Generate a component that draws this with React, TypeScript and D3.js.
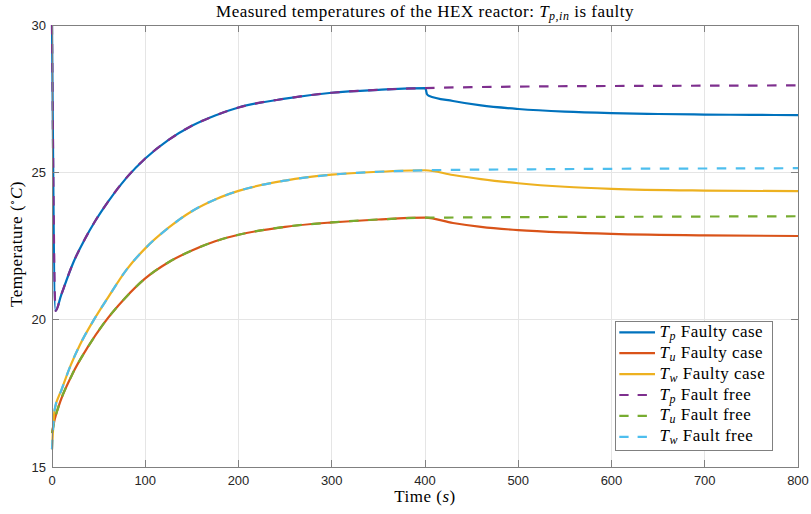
import React from "react";
import * as d3 from "d3";

// ---- data ----
const tpTime = [0, 3.8, 10, 23, 35, 46, 60, 80, 100, 125, 150, 175, 200, 250, 300, 350, 400];
const tpBefore = [30, 20.3, 20.85, 21.95, 22.72, 23.33, 24.0, 24.82, 25.47, 26.1, 26.58, 26.93, 27.2, 27.5, 27.7, 27.8, 27.86];

const tuTime = [0, 2.8, 7, 21, 39, 55, 78, 100, 125, 150, 175, 200, 250, 300, 350, 400];
const tuBefore = [16.15, 16.6, 17.05, 18.1, 19.1, 19.85, 20.72, 21.4, 21.95, 22.35, 22.66, 22.88, 23.15, 23.3, 23.4, 23.46];

const twTime = [0, 2.8, 10, 20, 30, 45, 60, 80, 100, 125, 150, 175, 200, 250, 300, 350, 400];
const twBefore = [15.6, 16.94, 17.6, 18.45, 19.15, 20.0, 20.75, 21.7, 22.42, 23.12, 23.68, 24.08, 24.37, 24.72, 24.92, 25.02, 25.07];

const tpFaultyTime = [400, 401, 402, 404, 430, 460, 500, 550, 600, 650, 700, 750, 800];
const tpFaulty = [27.86, 27.8, 27.66, 27.6, 27.42, 27.27, 27.15, 27.06, 27.01, 26.98, 26.96, 26.95, 26.94];
const afterTime = [400, 430, 460, 500, 550, 600, 700, 800];
const tuFaulty = [23.46, 23.28, 23.15, 23.04, 22.96, 22.91, 22.86, 22.84];
const twFaulty = [25.07, 24.91, 24.77, 24.63, 24.51, 24.44, 24.38, 24.36];
const freeTime = [400, 450, 500, 600, 700, 800];
const tpFree = [27.86, 27.89, 27.91, 27.93, 27.94, 27.95];
const tuFree = [23.46, 23.47, 23.48, 23.49, 23.5, 23.51];
const twFree = [25.07, 25.09, 25.1, 25.12, 25.13, 25.14];

const xTicks = [0, 100, 200, 300, 400, 500, 600, 700, 800];
const yTicks = [15, 20, 25, 30];

const legendItems = [
  { sub: "p", label: "Faulty case", color: "#0072BD", dashed: false },
  { sub: "u", label: "Faulty case", color: "#D95319", dashed: false },
  { sub: "w", label: "Faulty case", color: "#EDB120", dashed: false },
  { sub: "p", label: "Fault free", color: "#7E2F8E", dashed: true },
  { sub: "u", label: "Fault free", color: "#77AC30", dashed: true },
  { sub: "w", label: "Fault free", color: "#4DBEEE", dashed: true },
];

const W = 811;
const H = 514;
const L = 52;
const R = 798;
const T = 25;
const B = 467;
const DASH = "9.5,9.5";
const serif = "'Liberation Serif', 'DejaVu Serif', serif";
const sans = "'Liberation Sans', Arial, sans-serif";
const axisColor = "#808080";
const FS = 17;
const LS = 0.5;

function zip(t: number[], v: number[]): [number, number][] {
  return t.map((d, i) => [d, v[i]] as [number, number]);
}

export default function App() {
  const x = d3.scaleLinear().domain([0, 800]).range([L, R]);
  const y = d3.scaleLinear().domain([15, 30]).range([B, T]);
  const line = d3
    .line<[number, number]>()
    .x((d) => x(d[0]))
    .y((d) => y(d[1]))
    .curve(d3.curveMonotoneX);

  const tpF = zip(tpTime, tpBefore).concat(zip(tpFaultyTime, tpFaulty).slice(1));
  const tuF = zip(tuTime, tuBefore).concat(zip(afterTime, tuFaulty).slice(1));
  const twF = zip(twTime, twBefore).concat(zip(afterTime, twFaulty).slice(1));
  const tpN = zip(tpTime, tpBefore).concat(zip(freeTime, tpFree).slice(1));
  const tuN = zip(tuTime, tuBefore).concat(zip(freeTime, tuFree).slice(1));
  const twN = zip(twTime, twBefore).concat(zip(freeTime, twFree).slice(1));

  const series = [
    { d: tpF, c: "#0072BD", dash: false },
    { d: tuF, c: "#D95319", dash: false },
    { d: twF, c: "#EDB120", dash: false },
    { d: tpN, c: "#7E2F8E", dash: true },
    { d: tuN, c: "#77AC30", dash: true },
    { d: twN, c: "#4DBEEE", dash: true },
  ];

  const legX = 615;
  const legY = 321;
  const legW = 157;
  const legH = 129;
  const rowH = 20.9;

  return (
    <svg width={W} height={H} style={{ position: "absolute", left: 0, top: 0, background: "#fff" }}>
      <rect x={0} y={0} width={W} height={H} fill="#fff" />
      {/* grid */}
      <g stroke="#e5e5e5" strokeWidth={1} shapeRendering="crispEdges">
        {xTicks.slice(1, -1).map((t) => (
          <line key={"gx" + t} x1={x(t)} x2={x(t)} y1={T} y2={B} />
        ))}
        {yTicks.slice(1, -1).map((t) => (
          <line key={"gy" + t} x1={L} x2={R} y1={y(t)} y2={y(t)} />
        ))}
      </g>
      {/* series */}
      {series.map((s, i) => (
        <path
          key={i}
          d={line(s.d) || ""}
          fill="none"
          stroke={s.c}
          strokeWidth={2.2}
          strokeDasharray={s.dash ? DASH : undefined}
          strokeLinejoin="round"
        />
      ))}
      {/* axes box and ticks */}
      <g stroke={axisColor} strokeWidth={1} shapeRendering="crispEdges" fill="none">
        <rect x={L} y={T} width={R - L} height={B - T} />
        {xTicks.map((t) => (
          <g key={"tx" + t}>
            <line x1={x(t)} x2={x(t)} y1={B} y2={B - 7} />
            <line x1={x(t)} x2={x(t)} y1={T} y2={T + 7} />
          </g>
        ))}
        {yTicks.map((t) => (
          <g key={"ty" + t}>
            <line x1={L} x2={L + 7} y1={y(t)} y2={y(t)} />
            <line x1={R} x2={R - 7} y1={y(t)} y2={y(t)} />
          </g>
        ))}
      </g>
      {/* tick labels */}
      <g fontFamily={sans} fontSize={13} fill="#262626">
        {xTicks.map((t) => (
          <text key={"lx" + t} x={x(t)} y={B + 18} textAnchor="middle">
            {t}
          </text>
        ))}
        {yTicks.map((t) => (
          <text key={"ly" + t} x={L - 6} y={y(t) + 4.5} textAnchor="end">
            {t}
          </text>
        ))}
      </g>
      {/* title */}
      <text x={(L + R) / 2} y={17} textAnchor="middle" fontFamily={serif} fontSize={FS} letterSpacing={LS} fill="#000">
        Measured temperatures of the HEX reactor:{" "}
        <tspan fontStyle="italic">T</tspan>
        <tspan fontStyle="italic" fontSize={12} dy={3}>p,in</tspan>
        <tspan dy={-3}> is faulty</tspan>
      </text>
      {/* axis labels */}
      <text x={(L + R) / 2} y={502} textAnchor="middle" fontFamily={serif} fontSize={FS} letterSpacing={LS} fill="#000">
        Time (<tspan fontStyle="italic">s</tspan>)
      </text>
      <text
        transform={`translate(22, ${(T + B) / 2 - 2}) rotate(-90)`}
        textAnchor="middle"
        fontFamily={serif}
        fontSize={FS}
        letterSpacing={LS}
        fill="#000"
      >
        Temperature (<tspan fontSize={11} dy={-6}>∘</tspan>
        <tspan dy={6} fontStyle="italic">C</tspan>)
      </text>
      {/* legend */}
      <g>
        <rect x={legX} y={legY} width={legW} height={legH} fill="#fff" stroke={axisColor} strokeWidth={1} shapeRendering="crispEdges" />
        {legendItems.map((it, i) => {
          const cy = 332.3 + i * rowH;
          return (
            <g key={"leg" + i}>
              <line
                x1={619.3}
                x2={655}
                y1={cy}
                y2={cy}
                stroke={it.color}
                strokeWidth={2.2}
                strokeDasharray={it.dashed ? "9.3,9" : undefined}
              />
              <text x={659.5} y={cy + 4.5} fontFamily={serif} fontSize={FS} letterSpacing={LS} fill="#000">
                <tspan fontStyle="italic">T</tspan>
                <tspan fontStyle="italic" fontSize={12} dy={3}>{it.sub}</tspan>
                <tspan dy={-3}> {it.label}</tspan>
              </text>
            </g>
          );
        })}
      </g>
    </svg>
  );
}
